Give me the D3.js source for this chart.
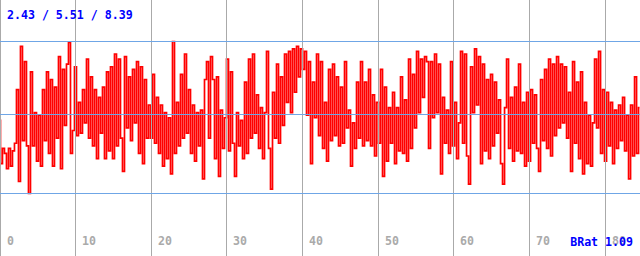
<!DOCTYPE html>
<html>
<head>
<meta charset="utf-8">
<script src="https://cdn.jsdelivr.net/npm/d3@7"></script>
<style>
html,body{margin:0;padding:0;background:#fff;}
svg{display:block;}
text{font-family:"DejaVu Sans Mono",monospace;font-weight:bold;font-size:11.6px;}
</style>
</head>
<body>
<svg id="chart" width="640" height="256"></svg>
<script>
const statsLabel = "2.43 / 5.51 / 8.39";
const minVal = 2.43, avgVal = 5.51, maxVal = 8.39;
const ratioLabel = "BRat 1.09";
const xTicks = [0, 10, 20, 30, 40, 50, 60, 70, 80];
const tStart = -0.07;
const tStep = 0.2645;
const values = [
5.3,3.6,4.2,4.0,3.4,4.2,3.5,4.1,4.4,6.5,2.9,8.2,4.5,7.6,4.3,2.43,7.2,4.3,5.6,3.7,
5.5,3.5,6.5,4.5,7.2,4.0,6.9,3.5,6.6,4.6,7.8,3.4,7.3,5.1,7.5,8.35,4.0,4.9,7.4,4.7,
6.0,4.8,6.5,5.2,7.7,4.6,7.0,4.3,6.5,3.8,6.2,4.8,6.6,3.8,7.2,4.1,7.4,3.8,7.9,4.3,
7.7,4.6,3.3,7.8,5.0,7.0,4.5,7.3,5.2,7.6,4.0,7.4,3.6,6.9,4.6,5.9,4.6,7.1,4.4,6.2,
4.0,5.9,3.5,5.6,3.8,5.4,3.2,8.39,4.0,6.0,4.3,7.1,4.6,7.9,4.8,6.5,4.0,5.9,3.7,5.6,
4.3,5.7,3.0,6.9,7.6,4.6,7.8,6.9,3.8,7.0,3.1,5.7,4.2,5.4,7.7,4.1,7.2,4.4,3.1,5.6,
4.3,5.3,3.8,6.8,4.0,7.7,4.6,7.9,4.8,6.3,4.2,5.8,3.8,5.6,8.0,4.2,2.6,6.4,4.6,7.5,
4.4,7.0,5.1,7.9,6.0,8.0,5.6,8.1,6.4,8.2,7.0,8.1,7.3,8.0,5.5,7.6,3.6,6.8,5.4,7.9,
4.7,7.6,4.2,6.0,3.7,7.3,4.5,7.5,4.7,7.0,4.3,6.6,4.4,7.6,5.0,5.7,3.5,5.2,4.2,6.8,
4.6,7.6,4.3,6.8,4.5,7.3,4.3,6.3,3.9,6.0,4.4,7.3,3.1,6.6,3.7,5.8,4.4,6.4,3.6,5.8,
4.1,7.0,4.0,6.1,3.7,7.7,4.2,7.1,5.0,8.0,5.6,7.7,6.2,7.8,7.6,4.2,7.6,5.4,7.9,5.6,
7.5,3.2,6.2,4.4,5.7,4.0,7.6,4.3,6.0,3.8,5.2,8.0,4.4,7.9,3.9,2.8,7.4,5.6,8.1,5.9,
7.8,3.6,7.5,4.1,6.9,3.8,7.1,4.3,6.8,4.8,6.1,3.6,2.8,5.8,7.7,4.2,6.2,3.7,6.6,4.1,
7.5,4.0,6.0,3.5,6.4,3.7,6.5,4.4,6.3,4.2,3.3,6.9,4.5,7.3,4.2,7.7,3.9,7.5,4.7,7.8,
5.0,7.5,5.2,7.4,4.6,6.4,3.3,7.6,4.4,6.8,3.8,7.2,3.2,6.0,3.6,5.5,3.5,5.2,7.7,5.0,
8.0,4.0,6.5,3.7,6.4,4.3,6.0,3.6,5.7,4.2,5.9,4.5,6.2,4.1,5.5,3.0,5.9,3.9,7.0,4.0,
5.8
];

const W = 640, H = 256;
const svg = d3.select("#chart");
const x = d3.scaleLinear().domain([0, 80]).range([0, 605]);
const y = d3.scaleLinear().domain([minVal, maxVal]).range([193.5, 41.5]);

const data = values.map((v, i) => ({t: tStart + i * tStep, v}));

svg.append("rect").attr("width", W).attr("height", H).attr("fill", "#fff");

const line = d3.line().x(d => x(d.t)).y(d => y(d.v)).curve(d3.curveStep);
svg.append("path").datum(data)
  .attr("d", line)
  .attr("fill", "none")
  .attr("stroke", "#ff0000")
  .attr("stroke-width", 1.7)
  .attr("stroke-linejoin", "miter");

// vertical grid
svg.append("g").selectAll("line").data(xTicks).join("line")
  .attr("x1", d => Math.floor(x(d)) + 0.5)
  .attr("x2", d => Math.floor(x(d)) + 0.5)
  .attr("y1", 0).attr("y2", H)
  .attr("stroke", "#aaaaaa").attr("stroke-width", 1);

// horizontal reference lines
svg.append("g").selectAll("line").data([minVal, avgVal, maxVal]).join("line")
  .attr("x1", 0).attr("x2", W)
  .attr("y1", d => Math.round(y(d)) - 0.5)
  .attr("y2", d => Math.round(y(d)) - 0.5)
  .attr("stroke", "#6fa6e6").attr("stroke-width", 1);

// tick labels
svg.append("g").selectAll("text").data(xTicks).join("text")
  .attr("x", d => Math.floor(x(d)) + 7)
  .attr("y", 245)
  .attr("fill", "#aaaaaa")
  .text(d => d);

svg.append("text").attr("x", 7).attr("y", 19).attr("fill", "#0000ff").text(statsLabel);
svg.append("text").attr("x", 633).attr("y", 246).attr("text-anchor", "end").attr("fill", "#0000ff").text(ratioLabel);
</script>
</body>
</html>
